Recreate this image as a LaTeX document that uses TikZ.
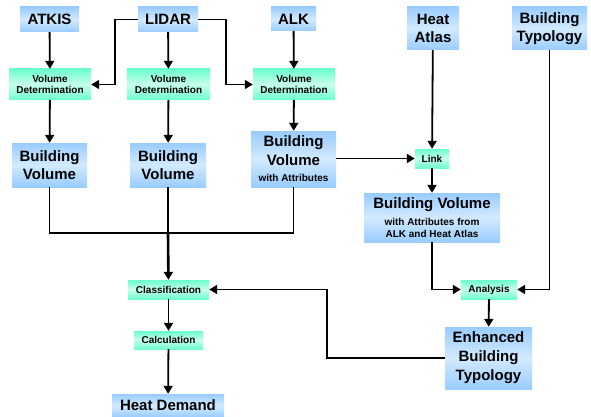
\documentclass[tikz,border=0pt]{standalone}
\usepackage{fontspec}
\setmainfont{Liberation Sans}
\usetikzlibrary{arrows.meta}
\definecolor{bluetop}{HTML}{99CCFF}
\definecolor{bluemid}{HTML}{D2EAFF}
\definecolor{greentop}{HTML}{6CFFCE}
\definecolor{greenmid}{HTML}{C8FFEC}
\tikzset{
  bluebox/.style={inner sep=0pt, align=center, font=\bfseries, top color=bluetop, bottom color=bluetop, middle color=bluemid},
  greenbox/.style={inner sep=0pt, align=center, font=\bfseries\fontsize{10}{11.5}\selectfont, top color=greentop, bottom color=greentop, middle color=greenmid},
  big/.style={font=\bfseries\fontsize{15}{17.5}\selectfont},
  conn/.style={line width=1.8pt, draw=black},
  arr/.style={conn, -{Triangle[length=8pt,width=9pt]}},
}
\begin{document}
\begin{tikzpicture}[x=1pt,y=-1pt]
\useasboundingbox (0,0) rectangle (591,417);
% top row
\node[bluebox,big,minimum width=59pt,minimum height=25pt] (atkis) at (49.5,19.5) {ATKIS};
\node[bluebox,big,minimum width=60pt,minimum height=25pt] (lidar) at (168,19.5) {LIDAR};
\node[bluebox,big,minimum width=45pt,minimum height=24pt] (alk) at (293.5,19) {ALK};
\node[bluebox,big,minimum width=52pt,minimum height=43pt] (heat) at (433,28.5) {Heat\\Atlas};
\node[bluebox,big,minimum width=75pt,minimum height=43pt] (btyp) at (549.5,28.5) {Building\\Typology};
% volume determination
\node[greenbox,minimum width=82pt,minimum height=31pt] (vd1) at (50,84.5) {Volume\\Determination};
\node[greenbox,minimum width=83pt,minimum height=31pt] (vd2) at (168.5,84.5) {Volume\\Determination};
\node[greenbox,minimum width=82pt,minimum height=31pt] (vd3) at (294,84.5) {Volume\\Determination};
% building volumes
\node[bluebox,big,minimum width=75pt,minimum height=44pt] (bv1) at (49.5,165) {Building\\Volume};
\node[bluebox,big,minimum width=76pt,minimum height=44pt] (bv2) at (168,165) {Building\\Volume};
\node[bluebox,font=\bfseries\fontsize{15}{19}\selectfont,minimum width=85pt,minimum height=56pt] (bv3) at (293.5,159) {Building\\Volume\\[-3pt]\fontsize{10}{12}\selectfont with Attributes};
\node[greenbox,minimum width=34pt,minimum height=19pt] (link) at (432,158.5) {Link};
\node[bluebox,font=\bfseries\fontsize{15}{12}\selectfont,minimum width=136pt,minimum height=49pt] (bva) at (432,217.5) {Building Volume\\[5pt]\fontsize{10}{12}\selectfont with Attributes from\\\fontsize{10}{12}\selectfont ALK and Heat Atlas};
\node[greenbox,minimum width=56pt,minimum height=19pt] (anal) at (489,289.5) {Analysis};
\node[bluebox,font=\bfseries\fontsize{15}{19}\selectfont,minimum width=87pt,minimum height=62pt] (ebt) at (488.5,358) {Enhanced\\Building\\Typology};
\node[greenbox,minimum width=81pt,minimum height=19pt] (class) at (168.5,289.5) {Classification};
\node[greenbox,minimum width=69pt,minimum height=18pt] (calc) at (168.5,340) {Calculation};
\node[bluebox,big,minimum width=112pt,minimum height=23pt] (hd) at (168,405.5) {Heat Demand};
\coordinate (jl) at (49.5,233);
\coordinate (jr) at (293.5,233);
\coordinate (jm) at (168,233);
% connectors
\draw[arr] (atkis) -- (vd1);
\draw[arr] (lidar) -- (vd2);
\draw[arr] (alk) -- (vd3);
\draw[arr] (lidar.west) -| (115,84.5) -- (vd1.east);
\draw[arr] (lidar.east) -| (226,84.5) -- (vd3.west);
\draw[arr] (vd1) -- (bv1);
\draw[arr] (vd2) -- (bv2);
\draw[arr] (vd3) -- (bv3);
\draw[conn] (bv1.south) -- (jl) -- (jr) -- (bv3.south);
\draw[conn] (bv2.south) -- (jm);
\draw[arr, line width=2.6pt] (jm) -- (class);
\draw[arr] (bv3.east |- link.west) -- (link.west);
\draw[arr] (heat) -- (link);
\draw[arr] (link) -- (bva);
\draw[arr] (bva.south) |- (anal.west);
\draw[arr] (btyp.south) |- (anal.east);
\draw[arr] (anal) -- (ebt);
\draw[arr] (ebt.west) -| (327,289.5) -- (class.east);
\draw[arr] (class) -- (calc);
\draw[arr] (calc) -- (hd);
\end{tikzpicture}
\end{document}
